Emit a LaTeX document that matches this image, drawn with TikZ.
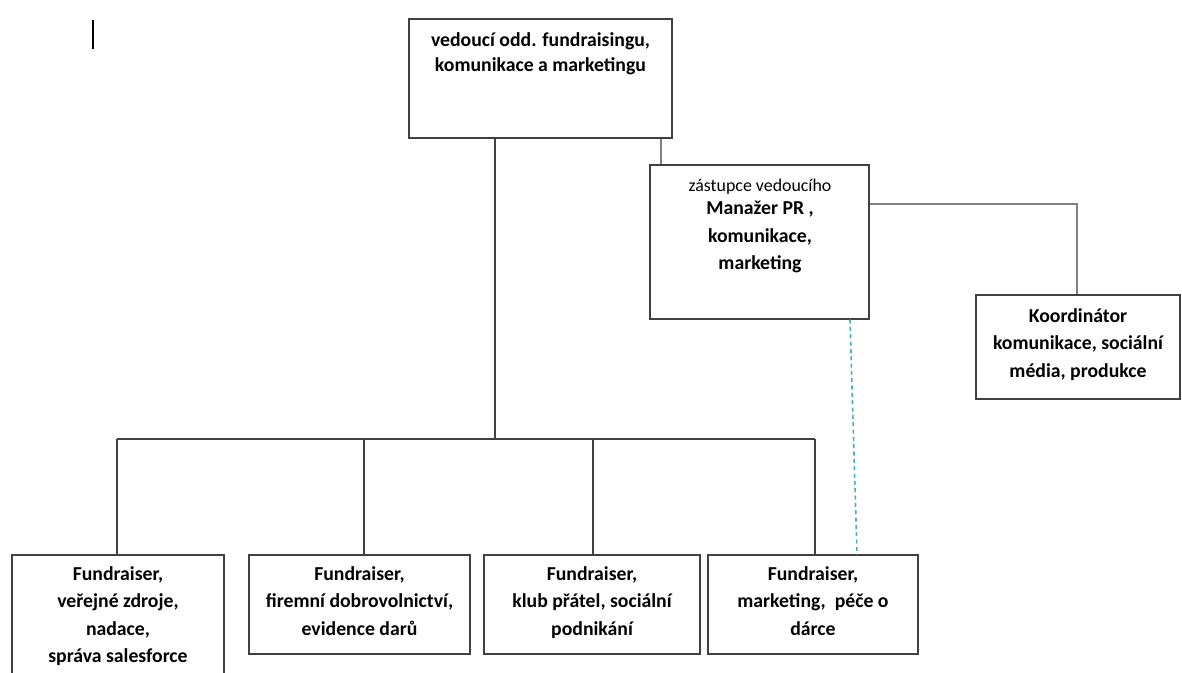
\documentclass[tikz,border=0pt]{standalone}
\usepackage{fontspec}
\setmainfont{Carlito}
\definecolor{wordblue}{RGB}{75,172,198}
\definecolor{linegray}{RGB}{64,64,64}
\begin{document}
\begin{tikzpicture}[x=0.75pt,y=-0.75pt,
  box/.style={draw=linegray, line width=0.9pt, inner sep=0pt},
  txt/.style={align=center, font=\bfseries\fontsize{14.8}{20.6}\selectfont, inner sep=0pt, anchor=north},
  smalltxt/.style={font=\fontsize{13.4}{16}\selectfont, inner sep=0pt, anchor=north},
  conn/.style={draw=linegray, line width=0.9pt},
  graycon/.style={draw=black!50, line width=1.3pt},
  dashcon/.style={draw=wordblue, line width=1.2pt, dash pattern=on 3pt off 2.5pt}]
\useasboundingbox (0,0) rectangle (1182,673);
% boxes
\node[box, minimum width=197.25pt, minimum height=89.25pt] (top) at (540.5,78.5) {};
\node[box, minimum width=164.25pt, minimum height=115.5pt] (mgr) at (759.5,242) {};
\node[box, minimum width=153pt, minimum height=78pt] (coord) at (1078,347) {};
\node[box, minimum width=159pt, minimum height=108.75pt] (b1) at (118,627.5) {};
\node[box, minimum width=165.75pt, minimum height=74.25pt] (b2) at (359.5,604.5) {};
\node[box, minimum width=162pt, minimum height=74.25pt] (b3) at (592,604.5) {};
\node[box, minimum width=157.5pt, minimum height=74.25pt] (b4) at (813,604.5) {};
% texts
\node[txt, font=\bfseries\fontsize{14.8}{19}\selectfont] (ttop) at (540.5,32) {vedoucí odd. fundraisingu,\\komunikace a marketingu};
\node[smalltxt] (tmgr0) at (760,179) {zástupce vedoucího};
\node[txt] (tmgr) at (760,201) {Manažer PR ,\\komunikace,\\marketing};
\node[txt] (tcoord) at (1078,308) {Koordinátor\\komunikace, sociální\\média, produkce};
\node[txt] (tb1) at (118,566) {Fundraiser,\\veřejné zdroje,\\nadace,\\správa salesforce};
\node[txt] (tb2) at (359.5,566) {Fundraiser,\\firemní dobrovolnictví,\\evidence darů};
\node[txt] (tb3) at (592,566) {Fundraiser,\\klub přátel, sociální\\podnikání};
\node[txt] (tb4) at (813,566) {Fundraiser,\\marketing,~ péče o\\dárce};
% bus
\coordinate (bus) at (495,439);
\coordinate (j1) at (117,439);
\coordinate (j2) at (364,439);
\coordinate (j3) at (593,439);
\coordinate (j4) at (815,439);
\draw[conn] (top.south -| bus) -- (bus);
\draw[conn] (j1) -- (j4);
\draw[conn] (j1) -- (j1 |- b1.north);
\draw[conn] (j2) -- (j2 |- b2.north);
\draw[conn] (j3) -- (j3 |- b3.north);
\draw[conn] (j4) -- (j4 |- b4.north);
% manager links
\coordinate (m1) at (661,0);
\draw[graycon] (top.south -| m1) -- (mgr.north -| m1);
\coordinate (c1) at (1077,204);
\draw[graycon] (c1 -| mgr.east) -- (c1) -- (c1 |- coord.north);
\coordinate (d1) at (850,0);
\coordinate (d2) at (857,0);
\draw[dashcon] (mgr.south -| d1) -- (b4.north -| d2);
% text cursor
\coordinate (cur) at (93,20);
\draw[line width=2.2pt] (cur) -- ++(0,29);
\end{tikzpicture}
\end{document}
